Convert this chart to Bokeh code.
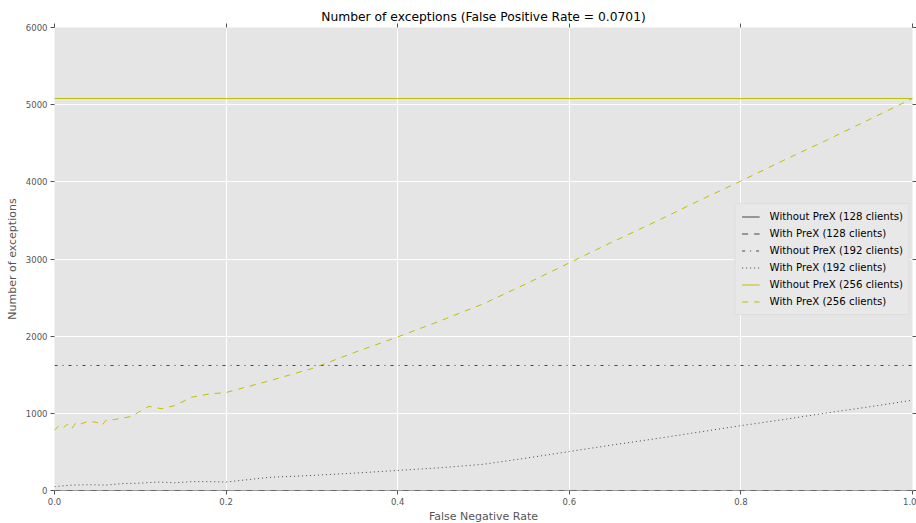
from bokeh.plotting import figure
from bokeh.embed import file_html
from bokeh.resources import INLINE
from bokeh.models import (LinearAxis, Range1d, FixedTicker, Legend, LegendItem,
                          CustomJSTickFormatter, PrintfTickFormatter)

# ---- data ----
fnr_const = [0.0, 1.0]
without_128 = [0, 0]
with_128 = [0, 0]
without_192 = [1620, 1620]
without_256 = [5080, 5080]

fnr_192 = [0, 0.02, 0.04, 0.06, 0.08, 0.1, 0.12, 0.14, 0.16, 0.18, 0.2, 0.25, 0.3, 0.35,
           0.4, 0.45, 0.5, 0.55, 0.6, 0.65, 0.7, 0.75, 0.8, 0.85, 0.9, 0.95, 1.0]
with_192 = [50, 70, 75, 70, 90, 95, 110, 100, 115, 115, 110, 170, 195, 225,
            260, 295, 340, 420, 505, 590, 670, 755, 840, 920, 1005, 1085, 1170]

fnr_256 = [0, 0.005, 0.01, 0.015, 0.02, 0.025, 0.03, 0.04, 0.05, 0.055, 0.06, 0.07, 0.08,
           0.09, 0.10, 0.11, 0.125, 0.14, 0.16, 0.18, 0.20, 0.25, 0.30, 0.35, 0.40, 0.45,
           0.50, 0.55, 0.60, 0.65, 0.70, 0.75, 0.80, 0.85, 0.90, 0.95, 1.0]
with_256 = [780, 840, 810, 860, 800, 880, 860, 900, 880, 840, 910, 920, 940,
            960, 1030, 1090, 1060, 1100, 1210, 1250, 1270, 1420, 1580, 1790, 1990, 2200,
            2420, 2680, 2950, 3220, 3480, 3750, 4010, 4280, 4540, 4810, 5080]

x_ticks = [0.0, 0.2, 0.4, 0.6, 0.8, 1.0]
y_ticks = [0, 1000, 2000, 3000, 4000, 5000, 6000]

title_text = "Number of exceptions (False Positive Rate = 0.0701)"
x_label = "False Negative Rate"
y_label = "Number of exceptions"

FONT = "DejaVu Sans"
GRAY = "#555555"
LINE_GRAY = "#444444"
YEL = "#bfbf00"

p = figure(frame_width=858, frame_height=463, output_backend="svg", toolbar_location=None,
           x_range=Range1d(0, 1), y_range=Range1d(0, 6000),
           min_border_left=54, min_border_right=2, min_border_top=27, min_border_bottom=33,
           x_axis_label=x_label, y_axis_label=y_label, title=title_text)
p.background_fill_color = "#e5e5e5"
p.border_fill_color = "white"
p.outline_line_color = None

p.title.text_font = FONT
p.title.text_font_size = "12.3px"
p.title.text_font_style = "normal"
p.title.text_color = "black"
p.title.align = "center"
p.title.standoff = 0
p.title.offset = 0

for ax in (p.xaxis[0], p.yaxis[0]):
    ax.axis_line_color = None
    ax.major_tick_line_color = GRAY
    ax.major_tick_in = 0
    ax.major_tick_out = 4
    ax.minor_tick_line_color = None
    ax.major_label_text_font = FONT
    ax.major_label_text_font_size = "8.5px"
    ax.major_label_text_color = GRAY
    ax.axis_label_text_font = FONT
    ax.axis_label_text_font_size = "11px"
    ax.axis_label_text_color = GRAY
    ax.axis_label_text_font_style = "normal"
    ax.major_label_standoff = 3
p.xaxis.axis_label_standoff = 2
p.yaxis.axis_label_standoff = 4
p.xaxis.ticker = FixedTicker(ticks=x_ticks)
p.xaxis.formatter = PrintfTickFormatter(format="%.1f")
p.yaxis.ticker = FixedTicker(ticks=y_ticks)

# top and right tick-only axes
blank = CustomJSTickFormatter(code="return ''")
top = LinearAxis(ticker=FixedTicker(ticks=x_ticks), formatter=blank, axis_line_color=None,
                 major_tick_line_color=GRAY, major_tick_in=0, major_tick_out=4,
                 minor_tick_line_color=None, major_label_text_font_size="1px",
                 major_label_standoff=0)
right = LinearAxis(ticker=FixedTicker(ticks=y_ticks), formatter=blank, axis_line_color=None,
                   major_tick_line_color=GRAY, major_tick_in=0, major_tick_out=4,
                   minor_tick_line_color=None, major_label_text_font_size="1px",
                   major_label_standoff=0)
p.add_layout(top, "above")
p.add_layout(right, "right")

p.xgrid.grid_line_color = "white"
p.ygrid.grid_line_color = "white"
p.xgrid.grid_line_width = 1
p.ygrid.grid_line_width = 1

r1 = p.line(fnr_const, without_128, line_color=LINE_GRAY, line_width=1)
r2 = p.line(fnr_const, with_128, line_color=LINE_GRAY, line_width=1, line_dash="6 6")
r3 = p.line(fnr_const, without_192, line_color=LINE_GRAY, line_width=1, line_dash="3 5 1 5")
r4 = p.line(fnr_192, with_192, line_color=LINE_GRAY, line_width=1, line_dash="1 3")
r5 = p.line(fnr_const, without_256, line_color=YEL, line_width=1)
r6 = p.line(fnr_256, with_256, line_color=YEL, line_width=1, line_dash="6 6")

legend = Legend(items=[
    LegendItem(label="Without PreX (128 clients)", renderers=[r1]),
    LegendItem(label="With PreX (128 clients)", renderers=[r2]),
    LegendItem(label="Without PreX (192 clients)", renderers=[r3]),
    LegendItem(label="With PreX (192 clients)", renderers=[r4]),
    LegendItem(label="Without PreX (256 clients)", renderers=[r5]),
    LegendItem(label="With PreX (256 clients)", renderers=[r6]),
], location="right")
legend.label_text_font = FONT
legend.label_text_font_size = "10.2px"
legend.label_text_color = "black"
legend.label_height = 13
legend.glyph_height = 13
legend.glyph_width = 18
legend.label_standoff = 10
legend.spacing = 4
legend.padding = 6
legend.margin = 2
legend.background_fill_color = "#e8e8e8"
legend.background_fill_alpha = 1
legend.border_line_color = "#d4d4d4"
p.add_layout(legend)

open("out.html", "w").write(file_html(p, INLINE))
